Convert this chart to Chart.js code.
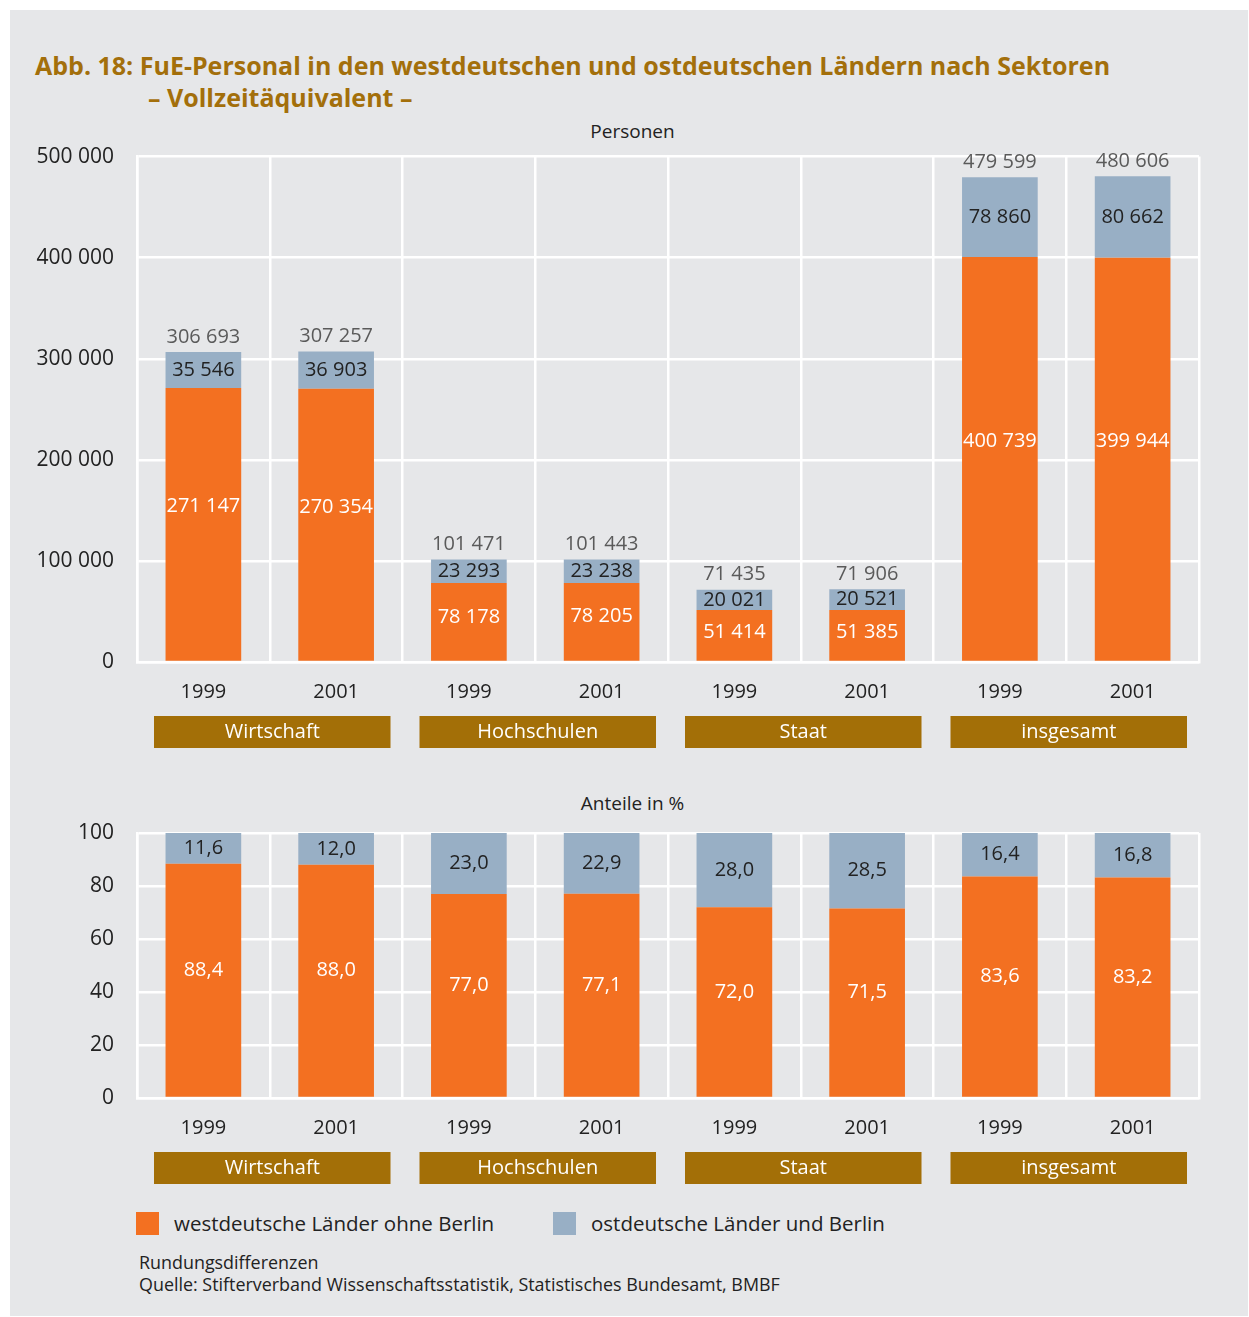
<!DOCTYPE html>
<html>
<head>
<meta charset="utf-8">
<script src="https://cdn.jsdelivr.net/npm/chart.js@4/dist/chart.umd.min.js"></script>
<style>
  body { margin: 0; background: #fff; font-family: 'Open Sans', sans-serif; }
  #panel { position: absolute; left: 10px; top: 10px; width: 1238px; height: 1306px; background: #e6e7e9; }
  .abs { position: absolute; white-space: nowrap; }
  .title { color: #a36f0b; font-weight: bold; font-size: 25px; }
  .sub { color: #222; font-size: 19px; }
  .leg { color: #222; font-size: 20.5px; }
  .foot { color: #222; font-size: 17.9px; }
  canvas { position: absolute; left: 0; }
  .sq { position: absolute; width: 23px; height: 23px; }
</style>
</head>
<body>
<div id="panel"></div>
<div class="abs title" style="left:35px; top:48px;">Abb. 18: FuE-Personal in den westdeutschen und ostdeutschen Ländern nach Sektoren</div>
<div class="abs title" style="left:148px; top:80px;">– Vollzeitäquivalent –</div>
<div class="abs sub" style="left:0; width:1265px; text-align:center; top:118px;">Personen</div>
<div class="abs sub" style="left:0; width:1265px; text-align:center; top:790px;">Anteile in %</div>

<div style="position:absolute; left:0; top:121px; width:1249px; height:640px;"><canvas id="chart1"></canvas></div>
<div style="position:absolute; left:0; top:790px; width:1249px; height:407px;"><canvas id="chart2"></canvas></div>

<div class="sq" style="left:136px; top:1212px; background:#f37021;"></div>
<div class="abs leg" style="left:174px; top:1209px;">westdeutsche Länder ohne Berlin</div>
<div class="sq" style="left:553px; top:1212px; background:#98afc5;"></div>
<div class="abs leg" style="left:591px; top:1209px;">ostdeutsche Länder und Berlin</div>
<div class="abs foot" style="left:139px; top:1250px;">Rundungsdifferenzen</div>
<div class="abs foot" style="left:139px; top:1272px;">Quelle: Stifterverband Wissenschaftsstatistik, Statistisches Bundesamt, BMBF</div>

<script>
// Daten
var years = ['1999', '2001', '1999', '2001', '1999', '2001', '1999', '2001'];
var groups = ['Wirtschaft', 'Hochschulen', 'Staat', 'insgesamt'];
var west = [271147, 270354, 78178, 78205, 51414, 51385, 400739, 399944];
var east = [35546, 36903, 23293, 23238, 20021, 20521, 78860, 80662];
var totals = [306693, 307257, 101471, 101443, 71435, 71906, 479599, 480606];
var westPct = [88.4, 88.0, 77.0, 77.1, 72.0, 71.5, 83.6, 83.2];
var eastPct = [11.6, 12.0, 23.0, 22.9, 28.0, 28.5, 16.4, 16.8];

var ORANGE = '#f37021';
var BLUE = '#98afc5';
var BROWN = '#a36f07';
var FONT = "'Open Sans', sans-serif";

function fmt(n) {
  return String(n).replace(/\B(?=(\d{3})+(?!\d))/g, ' ');
}
function fmtPct(n) {
  return n.toFixed(1).replace('.', ',');
}

// Beschriftungen in den Balken + Sektorboxen
var labelPlugin = {
  id: 'labels',
  afterDatasetsDraw: function(chart) {
    var ctx = chart.ctx;
    var opts = chart.options.plugins.labels;
    var f = opts.mode === 'pct' ? fmtPct : fmt;
    var m0 = chart.getDatasetMeta(0);
    var m1 = chart.getDatasetMeta(1);
    ctx.save();
    ctx.font = '20px ' + FONT;
    ctx.textAlign = 'center';
    ctx.textBaseline = 'middle';
    for (var i = 0; i < m0.data.length; i++) {
      var b0 = m0.data[i], b1 = m1.data[i];
      var h = b0.base - b0.y;
      var lift = opts.mode === 'pct' ? 10 : Math.min(18, h * 0.065);
      ctx.fillStyle = '#fff';
      ctx.fillText(f(chart.data.datasets[0].data[i]), b0.x, (b0.y + b0.base) / 2 - lift);
      ctx.fillStyle = '#222';
      ctx.fillText(f(chart.data.datasets[1].data[i]), b1.x, (b1.y + b1.base) / 2);
      if (opts.mode === 'num') {
        ctx.fillStyle = '#5a5a5a';
        ctx.fillText(fmt(totals[i]), b1.x, b1.y - 15);
      }
    }
    ctx.restore();
  },
  afterDraw: function(chart) {
    var ctx = chart.ctx;
    var x = chart.scales.x;
    var half = (x.right - x.left) / 16;
    var top = chart.chartArea.bottom + 54;
    ctx.save();
    ctx.font = '20px ' + FONT;
    ctx.textAlign = 'center';
    ctx.textBaseline = 'middle';
    for (var g = 0; g < groups.length; g++) {
      var l = x.getPixelForValue(2 * g) - half + 17;
      var r = x.getPixelForValue(2 * g + 1) + half - 12;
      ctx.fillStyle = BROWN;
      ctx.fillRect(l, top, r - l, 32);
      ctx.fillStyle = '#fff';
      ctx.fillText(groups[g], (l + r) / 2, top + 16);
    }
    ctx.restore();
  }
};

function makeChart(id, d0, d1, max, step, mode, padTop) {
  return new Chart(document.getElementById(id), {
    type: 'bar',
    data: {
      labels: years,
      datasets: [
        { data: d0, backgroundColor: ORANGE, barPercentage: 0.57, categoryPercentage: 1 },
        { data: d1, backgroundColor: BLUE, barPercentage: 0.57, categoryPercentage: 1 }
      ]
    },
    options: {
      responsive: true,
      maintainAspectRatio: false,
      animation: false,
      layout: { padding: { top: padTop, right: 50, bottom: 0, left: 0 } },
      plugins: {
        legend: { display: false },
        tooltip: { enabled: false },
        labels: { mode: mode }
      },
      scales: {
        x: {
          stacked: true,
          grid: { color: '#fff', lineWidth: 2.5, drawTicks: false, offset: true },
          border: { color: '#fff', width: 2.5 },
          ticks: { color: '#222', font: { family: FONT, size: 20 }, padding: 18 },
          afterFit: function(s) { s.height = 99; }
        },
        y: {
          stacked: true,
          min: 0, max: max,
          grid: { color: '#fff', lineWidth: 2.5, drawTicks: false },
          border: { color: '#fff', width: 2.5 },
          ticks: {
            stepSize: step, color: '#222', font: { family: FONT, size: 21 }, padding: 23,
            callback: function(v) { return mode === 'num' ? fmt(v) : v; }
          },
          afterFit: function(s) { s.width = 137; }
        }
      }
    },
    plugins: [labelPlugin]
  });
}

makeChart('chart1', west, east, 500000, 100000, 'num', 34);
makeChart('chart2', westPct, eastPct, 100, 20, 'pct', 43);
</script>
</body>
</html>
